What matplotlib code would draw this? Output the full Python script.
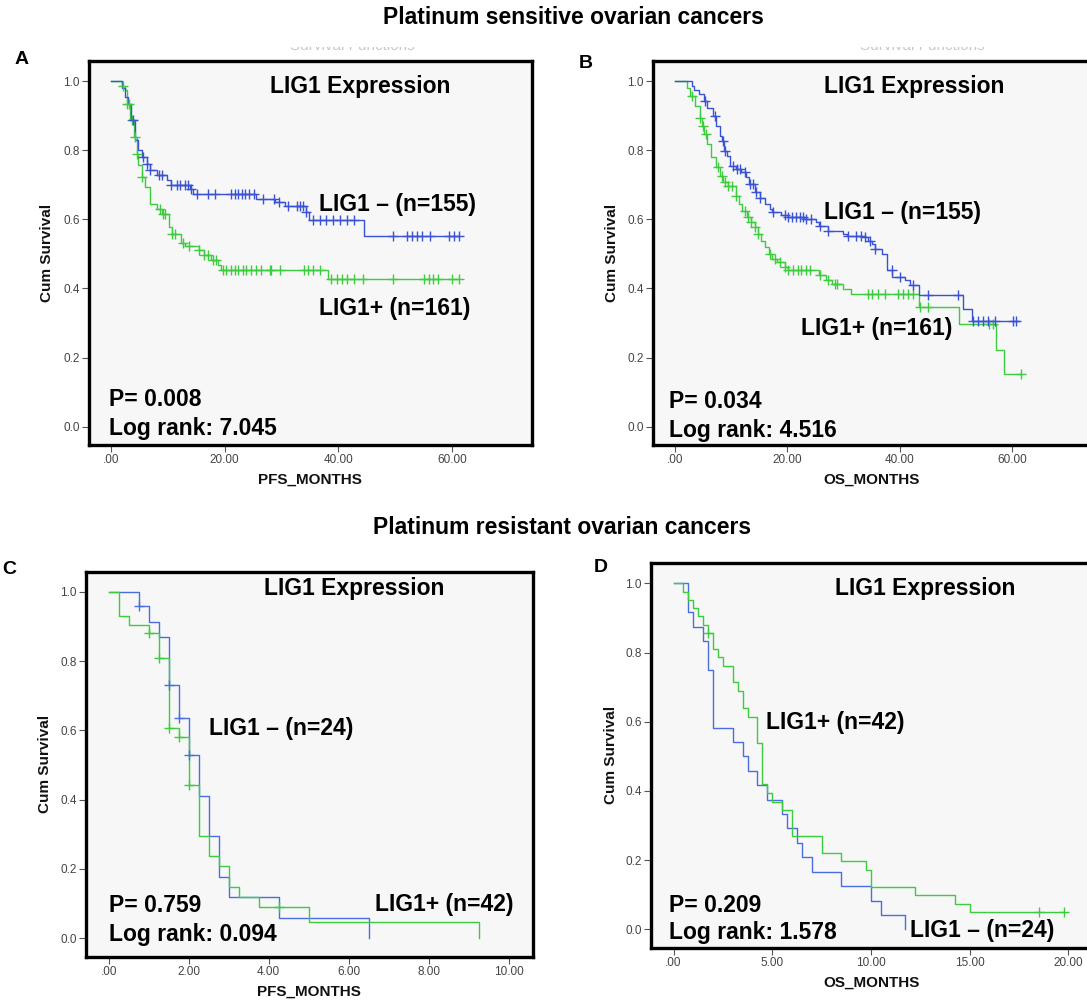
import numpy as np
import matplotlib
matplotlib.use('Agg')
import matplotlib.pyplot as plt
from matplotlib.patches import Rectangle

W, H = 1087, 1002
plt.rcParams['font.family'] = ['Liberation Sans', 'DejaVu Sans']

# ---------------- data ----------------
# Panel A: PFS, platinum sensitive
tA_neg = [1.9, 2.4, 3.0, 3.6, 4.2, 4.8, 5.4, 6.3, 6.9, 8.1, 9.8, 10.5, 13.9, 14.5,
          25.6, 28.8, 30.6, 34.3, 34.9, 44.5]
sA_neg = [0.98, 0.955, 0.935, 0.887, 0.829, 0.80, 0.78, 0.761, 0.742, 0.727, 0.713,
          0.699, 0.689, 0.672, 0.66, 0.65, 0.638, 0.621, 0.597, 0.552]
cA_neg = [3.9, 5.7, 6.3, 6.9, 8.5, 8.9, 10.5, 11.6, 12.1, 13.0, 13.6, 14.0, 15.1, 17.1,
          18.3, 21.2, 21.8, 22.4, 23.0, 23.6, 24.2, 25.1, 26.8, 28.6, 29.5, 31.2, 32.7,
          33.3, 33.7, 34.4, 35.6, 36.8, 37.9, 39.1, 40.3, 41.5, 42.7, 49.7, 52.1, 53.0,
          53.8, 54.7, 56.2, 59.4, 60.3, 61.3]
tA_pos = [1.9, 2.5, 2.8, 3.4, 4.0, 4.5, 4.7, 5.4, 6.0, 6.9, 8.1, 9.0, 10.2, 10.8, 12.3,
          13.1, 15.5, 16.4, 17.6, 18.8, 19.4, 38.1]
sA_pos = [0.985, 0.974, 0.935, 0.887, 0.839, 0.79, 0.757, 0.723, 0.694, 0.645, 0.63,
          0.616, 0.578, 0.558, 0.53, 0.522, 0.51, 0.496, 0.481, 0.467, 0.454, 0.428]
cA_pos = [2.2, 2.8, 3.1, 3.7, 4.2, 4.6, 5.4, 8.6, 9.2, 9.5, 10.8, 11.2, 12.6, 13.8, 15.5,
          16.4, 17.1, 17.9, 18.5, 19.7, 20.3, 21.2, 21.8, 22.4, 23.2, 23.7, 24.7, 25.6,
          26.4, 27.9, 28.2, 29.7, 33.9, 34.7, 35.6, 36.8, 38.8, 39.7, 40.6, 41.5, 42.7,
          44.4, 49.7, 55.0, 55.9, 56.7, 57.6, 60.0, 61.3]
endA = 61.3

# Panel B: OS, platinum sensitive
tB_neg = [3.0, 3.3, 4.2, 5.2, 5.7, 6.7, 7.3, 8.0, 8.3, 8.8, 9.2, 9.8, 10.8, 11.7, 12.6,
          13.2, 14.2, 15.1, 16.0, 17.0, 17.3, 18.8, 20.1, 22.9, 25.1, 25.7, 27.2, 30.0,
          30.7, 33.8, 34.4, 35.0, 35.6, 36.9, 37.8, 38.7, 40.9, 41.9, 43.4, 51.2, 52.9]
sB_neg = [0.986, 0.975, 0.962, 0.942, 0.923, 0.899, 0.870, 0.841, 0.827, 0.798, 0.784,
          0.755, 0.745, 0.736, 0.721, 0.702, 0.678, 0.663, 0.644, 0.63, 0.62, 0.613,
          0.608, 0.601, 0.591, 0.582, 0.567, 0.558, 0.553, 0.548, 0.538, 0.529, 0.514,
          0.5, 0.452, 0.433, 0.423, 0.409, 0.38, 0.341, 0.305]
cB_neg = [5.3, 7.1, 8.6, 8.9, 10.4, 11.0, 11.6, 12.5, 13.3, 13.9, 14.5, 15.1, 17.5, 19.6,
          20.2, 20.8, 21.6, 22.3, 22.8, 23.4, 24.3, 25.8, 27.3, 30.8, 32.3, 33.2, 33.8,
          34.7, 35.6, 38.6, 40.0, 42.4, 45.1, 50.4, 53.1, 54.0, 54.9, 55.8, 56.9, 60.2,
          60.8]
tB_pos = [2.05, 2.7, 3.6, 4.5, 4.85, 5.2, 5.7, 6.4, 7.3, 8.0, 8.6, 9.5, 10.8, 11.4, 12.0,
          12.9, 13.6, 14.2, 14.8, 15.4, 16.0, 16.7, 17.3, 18.2, 19.5, 20.1, 25.7, 26.9,
          27.9, 30.0, 31.3, 43.4, 50.6, 57.1, 58.6]
sB_pos = [0.981, 0.957, 0.928, 0.894, 0.870, 0.846, 0.817, 0.779, 0.75, 0.726, 0.707,
          0.697, 0.668, 0.644, 0.625, 0.606, 0.591, 0.577, 0.558, 0.538, 0.519, 0.5,
          0.486, 0.476, 0.462, 0.453, 0.438, 0.423, 0.413, 0.399, 0.383, 0.346, 0.298,
          0.223, 0.151]
cB_pos = [3.0, 4.5, 5.0, 5.6, 7.7, 8.3, 8.9, 9.5, 10.1, 10.9, 12.5, 13.0, 13.6, 14.2,
          14.8, 16.9, 17.8, 18.7, 19.6, 20.2, 21.1, 21.9, 22.5, 23.4, 24.0, 25.8, 27.3,
          28.5, 28.8, 34.4, 35.0, 36.2, 37.4, 39.7, 40.6, 41.5, 42.4, 43.6, 45.1, 56.0,
          56.6, 61.6]
endB_neg, endB_pos = 61.3, 61.6

# Panel C: PFS, platinum resistant
tC_neg = [0.75, 1.0, 1.25, 1.5, 1.75, 2.0, 2.25, 2.5, 2.75, 3.0, 4.25, 6.5]
sC_neg = [0.958, 0.913, 0.868, 0.731, 0.635, 0.529, 0.412, 0.295, 0.177, 0.118, 0.059, 0.0]
cC_neg = [0.75, 1.5, 1.75, 2.0]
tC_pos = [0.25, 0.5, 1.0, 1.25, 1.5, 1.75, 2.0, 2.25, 2.5, 2.75, 3.0, 3.25, 3.75, 5.0, 9.25]
sC_pos = [0.929, 0.905, 0.881, 0.808, 0.606, 0.581, 0.442, 0.295, 0.237, 0.209, 0.149,
          0.119, 0.089, 0.047, 0.0]
cC_pos = [1.0, 1.25, 1.5, 1.75, 2.0, 4.25]
endC_neg, endC_pos = 6.5, 9.25

# Panel D: OS, platinum resistant
tD_neg = [0.75, 1.0, 1.5, 1.75, 2.0, 3.0, 3.5, 3.75, 4.25, 4.75, 5.5, 5.75, 6.25, 6.5,
          7.0, 8.5, 10.0, 10.5, 11.75]
sD_neg = [0.917, 0.875, 0.833, 0.75, 0.583, 0.542, 0.5, 0.458, 0.417, 0.375, 0.333,
          0.292, 0.25, 0.208, 0.167, 0.125, 0.083, 0.042, 0.0]
cD_neg = []
tD_pos = [0.5, 0.75, 1.0, 1.25, 1.5, 1.75, 2.0, 2.25, 2.5, 3.0, 3.25, 3.5, 3.75, 4.25,
          4.5, 4.75, 5.0, 5.5, 6.0, 7.5, 8.5, 9.75, 10.0, 12.25, 14.25, 15.0]
sD_pos = [0.976, 0.952, 0.929, 0.905, 0.881, 0.857, 0.81, 0.786, 0.762, 0.714, 0.69,
          0.64, 0.613, 0.54, 0.42, 0.395, 0.369, 0.345, 0.27, 0.222, 0.197, 0.171,
          0.123, 0.098, 0.074, 0.049]
cD_pos = [1.75, 18.5, 19.8]
endD_neg, endD_pos = 11.75, 19.8

y_ticks = [0.0, 0.2, 0.4, 0.6, 0.8, 1.0]
y_labels = ['0.0', '0.2', '0.4', '0.6', '0.8', '1.0']
x_ticks_long = [0, 20, 40, 60]
x_labels_long = ['.00', '20.00', '40.00', '60.00']
x_ticks_C = [0, 2, 4, 6, 8, 10]
x_labels_C = ['.00', '2.00', '4.00', '6.00', '8.00', '10.00']
x_ticks_D = [0, 5, 10, 15, 20]
x_labels_D = ['.00', '5.00', '10.00', '15.00', '20.00']

BLUE = '#3a52d4'
BLUE2 = '#4a6ee0'
GREEN = '#3dcc3d'

# ---------------- drawing ----------------
fig = plt.figure(figsize=(W / 100, H / 100), dpi=100)


def box(x0, y0, x1, y1):
    return [x0 / W, 1 - y1 / H, (x1 - x0) / W, (y1 - y0) / H]


def ftext(x, y, s, **kw):
    return fig.text(x / W, 1 - y / H, s, **kw)


def km(ax, times, surv, end, cens, color, lw=1.0):
    t = [0.0] + list(times)
    s = [1.0] + list(surv)
    if end > t[-1]:
        t.append(end)
        s.append(s[-1])
    ax.step(t, s, where='post', color=color, lw=lw, zorder=3)
    if len(cens):
        tt = np.array(times)
        ss = np.array(surv)
        cy = []
        for c in cens:
            i = np.searchsorted(tt, c, side='right') - 1
            cy.append(1.0 if i < 0 else ss[i])
        ax.plot(cens, cy, ls='none', marker='+', ms=6.5, mew=1.0, color=color, zorder=4)


def make_axes(rect, xlim, ylim, xt, xl):
    ax = fig.add_axes(rect)
    ax.set_facecolor('#f7f7f7')
    ax.set_xlim(*xlim)
    ax.set_ylim(*ylim)
    ax.set_xticks(xt)
    ax.set_xticklabels(xl)
    ax.set_yticks(y_ticks)
    ax.set_yticklabels(y_labels)
    ax.tick_params(direction='out', length=5, width=0.8, color='#555555',
                   labelsize=8.5, labelcolor='#444444', pad=1.5)
    for sp in ax.spines.values():
        sp.set_linewidth(2.4)
        sp.set_color('black')
    return ax


BIG = 16.5
bold = dict(fontsize=BIG, fontweight='bold', color='black', va='center', ha='left')
lab = dict(fontsize=11, fontweight='bold', color='#111111', va='center', ha='center')

# faint, cropped chart-title remnants above the upper boxes
for xc in (352, 922):
    ftext(xc, 46, 'Survival Functions', fontsize=11, color='#c8c8c8',
          ha='center', va='center')
for (x0, x1) in ((250, 460), (820, 1030)):
    fig.patches.append(Rectangle((x0 / W, 1 - 47 / H), (x1 - x0) / W, 20 / H,
                                 transform=fig.transFigure, facecolor='white',
                                 edgecolor='none', zorder=5))

# Panel A
axA = make_axes(box(89, 61, 532, 445), (-3.87, 74.08), (-0.053, 1.058),
                x_ticks_long, x_labels_long)
km(axA, tA_pos, sA_pos, endA, cA_pos, GREEN)
km(axA, tA_neg, sA_neg, endA, cA_neg, BLUE)

# Panel B
axB = make_axes(box(653, 61, 1091, 445), (-3.92, 74.08), (-0.053, 1.058),
                x_ticks_long, x_labels_long)
km(axB, tB_pos, sB_pos, endB_pos, cB_pos, GREEN)
km(axB, tB_neg, sB_neg, endB_neg, cB_neg, BLUE)

# Panel C
axC = make_axes(box(86, 572, 533, 957), (-0.567, 10.61), (-0.054, 1.057),
                x_ticks_C, x_labels_C)
km(axC, tC_neg, sC_neg, endC_neg, cC_neg, BLUE2)
km(axC, tC_pos, sC_pos, endC_pos, cC_pos, GREEN)

# Panel D
axD = make_axes(box(651, 563, 1091, 948), (-1.14, 21.15), (-0.054, 1.059),
                x_ticks_D, x_labels_D)
km(axD, tD_neg, sD_neg, endD_neg, cD_neg, BLUE2)
km(axD, tD_pos, sD_pos, endD_pos, cD_pos, GREEN)

# Titles
ftext(573, 18, 'Platinum sensitive ovarian cancers', fontsize=16.5, fontweight='bold',
      ha='center', va='center')
ftext(562, 527, 'Platinum resistant ovarian cancers', fontsize=16.5, fontweight='bold',
      ha='center', va='center')

# Panel letters
for (x, y, s) in [(22, 60, 'A'), (586, 64, 'B'), (9, 570, 'C'), (601, 568, 'D')]:
    ftext(x, y, s, fontsize=14, fontweight='bold', ha='center', va='center')

# Axis labels
for (x, y) in [(47, 253), (612, 253), (45, 764), (611, 755)]:
    ftext(x, y, 'Cum Survival', rotation=90, **lab)
ftext(310, 480, 'PFS_MONTHS', **lab)
ftext(872, 480, 'OS_MONTHS', **lab)
ftext(309, 992, 'PFS_MONTHS', **lab)
ftext(872, 983, 'OS_MONTHS', **lab)

# Annotations A
ftext(270, 87, 'LIG1 Expression', **bold)
ftext(319, 205, 'LIG1 \u2013 (n=155)', **bold)
ftext(319, 309, 'LIG1+ (n=161)', **bold)
ftext(109, 399, 'P= 0.008', **bold)
ftext(109, 428, 'Log rank: 7.045', **bold)

# Annotations B
ftext(824, 87, 'LIG1 Expression', **bold)
ftext(824, 212, 'LIG1 \u2013 (n=155)', **bold)
ftext(801, 328, 'LIG1+ (n=161)', **bold)
ftext(669, 402, 'P= 0.034', **bold)
ftext(669, 430, 'Log rank: 4.516', **bold)

# Annotations C
ftext(264, 589, 'LIG1 Expression', **bold)
ftext(209, 728, 'LIG1 \u2013 (n=24)', **bold)
ftext(375, 905, 'LIG1+ (n=42)', **bold)
ftext(109, 905, 'P= 0.759', **bold)
ftext(109, 934, 'Log rank: 0.094', **bold)

# Annotations D
ftext(835, 588, 'LIG1 Expression', **bold)
ftext(766, 722, 'LIG1+ (n=42)', **bold)
ftext(910, 931, 'LIG1 \u2013 (n=24)', **bold)
ftext(669, 905, 'P= 0.209', **bold)
ftext(669, 933, 'Log rank: 1.578', **bold)

fig.savefig('out.png', dpi=100, facecolor='white')
